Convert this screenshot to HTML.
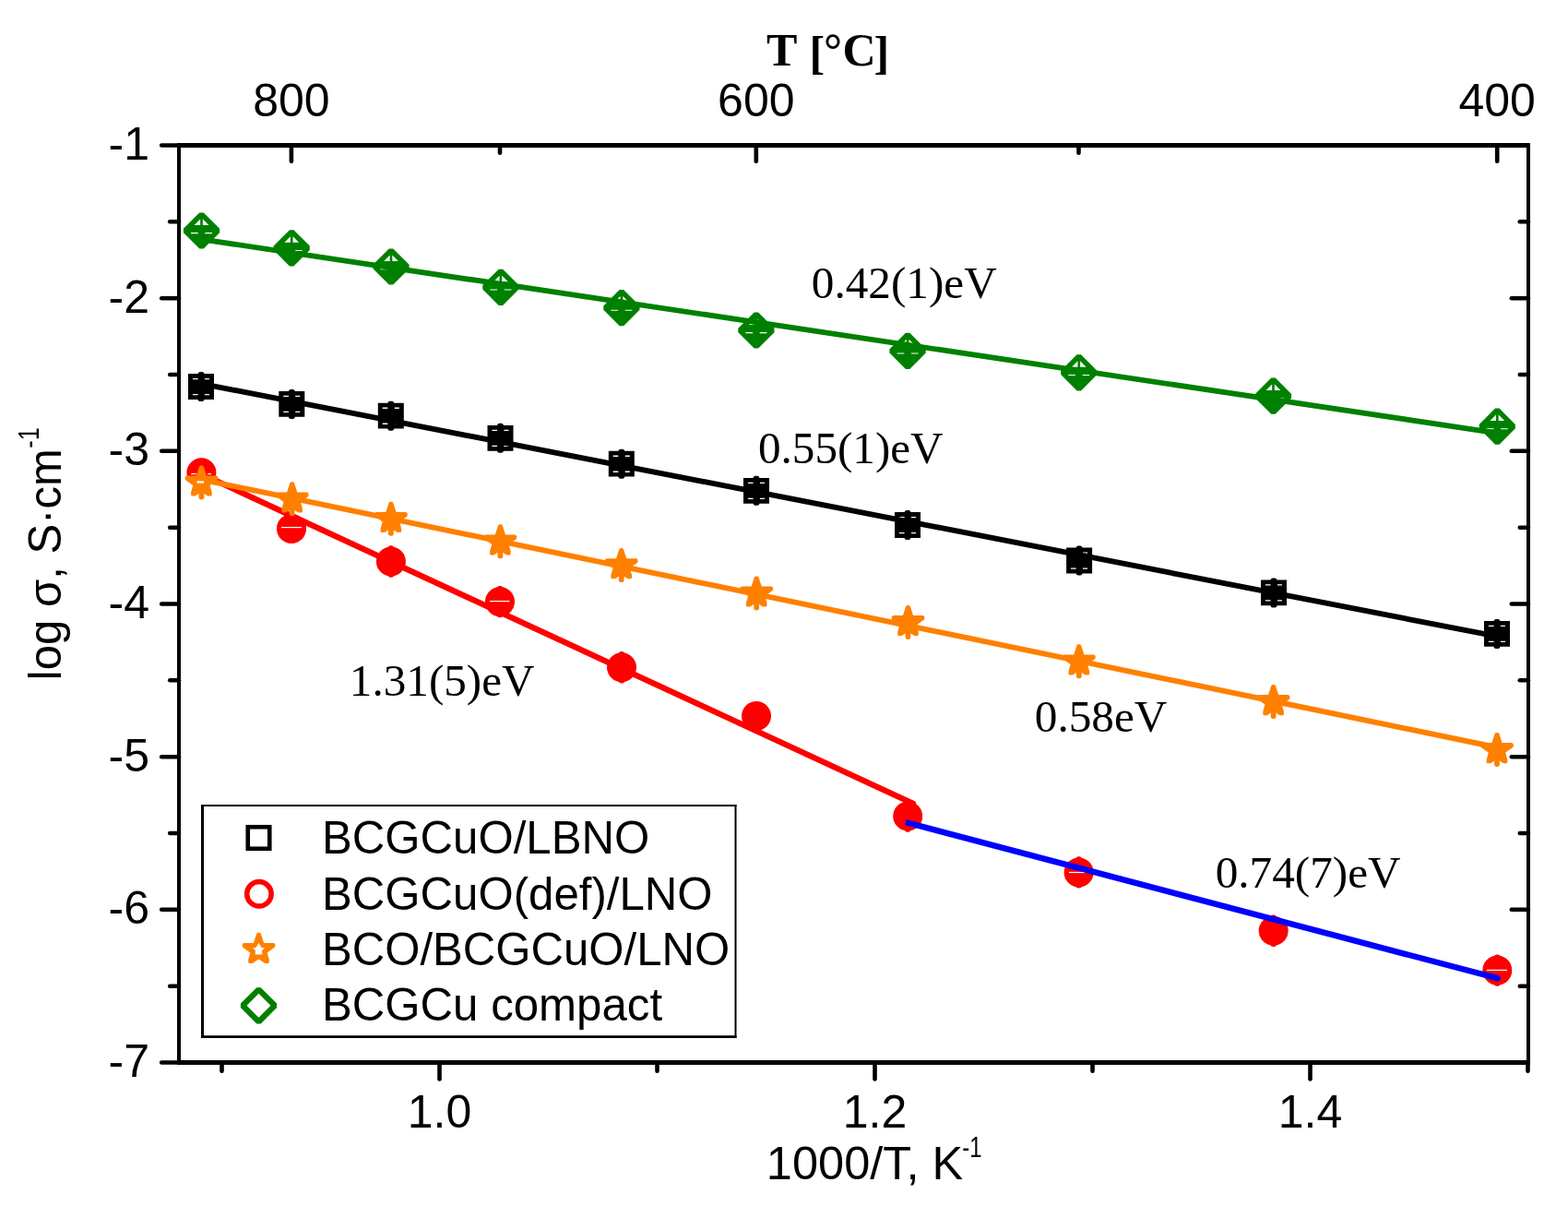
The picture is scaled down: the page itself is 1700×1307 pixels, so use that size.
<!DOCTYPE html>
<html><head><meta charset="utf-8"><title>Arrhenius plot</title>
<style>html,body{margin:0;padding:0;background:#fff;overflow:hidden;}svg{display:block;}</style>
</head><body>
<svg width="1700" height="1307" viewBox="0 0 1700 1307">
<rect width="1700" height="1307" fill="#fff"/>
<g id="series">
<line x1="218.4" y1="513.7" x2="990.0" y2="870.9" stroke="#FF0000" stroke-width="6.3" stroke-linecap="round"/>
<circle cx="218.4" cy="512.3" r="16" fill="#FF0000"/>
<circle cx="316" cy="572.9" r="16" fill="#FF0000"/>
<circle cx="423.9" cy="608.5" r="16" fill="#FF0000"/>
<rect x="420.90" y="591.30" width="6" height="34.4" rx="2.5" fill="#FF0000"/>
<circle cx="542" cy="652.1" r="16" fill="#FF0000"/>
<rect x="539.00" y="634.90" width="6" height="34.4" rx="2.5" fill="#FF0000"/>
<circle cx="674" cy="723.3" r="16" fill="#FF0000"/>
<rect x="671.00" y="706.10" width="6" height="34.4" rx="2.5" fill="#FF0000"/>
<circle cx="820" cy="776" r="16" fill="#FF0000"/>
<circle cx="984.2" cy="884.5" r="16" fill="#FF0000"/>
<rect x="981.20" y="867.30" width="6" height="34.4" rx="2.5" fill="#FF0000"/>
<circle cx="1169.6" cy="945.4" r="16" fill="#FF0000"/>
<rect x="1166.60" y="928.20" width="6" height="34.4" rx="2.5" fill="#FF0000"/>
<circle cx="1380.7" cy="1008.7" r="16" fill="#FF0000"/>
<rect x="1377.70" y="991.50" width="6" height="34.4" rx="2.5" fill="#FF0000"/>
<circle cx="1623.3" cy="1051.6" r="16" fill="#FF0000"/>
<rect x="1620.30" y="1034.40" width="6" height="34.4" rx="2.5" fill="#FF0000"/>
<rect x="305" y="571" width="22.0" height="1.2" fill="#fff"/>
<rect x="531" y="651" width="21.5" height="1.2" fill="#fff"/>
<rect x="1159" y="944.9" width="18.2" height="1.2" fill="#fff"/>
<rect x="1612" y="1050.8" width="22.0" height="1.2" fill="#fff"/>
<rect x="207.2" y="513" width="5.7" height="1.2" fill="#fff"/>
<rect x="225.1" y="513" width="3.8" height="1.2" fill="#fff"/>
<line x1="982.0" y1="891.2" x2="1623.5" y2="1060.2" stroke="#0000FF" stroke-width="6.5" stroke-linecap="butt"/>
<circle cx="1623.5" cy="1060.2" r="3.25" fill="#0000FF"/>
<line x1="218.4" y1="519.7" x2="1623.0" y2="810.0" stroke="#FF8000" stroke-width="6.0" stroke-linecap="butt"/>
<path d="M216.20,505.20 L217.60,504.40 L219.20,504.40 L220.60,505.20 L224.00,515.50 L234.60,515.50 L236.20,516.80 L236.20,519.60 L235.20,520.60 L227.60,526.00 L229.00,531.00 L229.70,533.30 L229.70,536.60 L228.90,537.60 L225.20,537.60 L218.40,533.00 L211.60,537.60 L207.90,537.60 L207.10,536.60 L207.10,533.30 L207.80,531.00 L209.20,526.00 L201.60,520.60 L200.60,519.60 L200.60,516.80 L202.20,515.50 L212.80,515.50Z" fill="#FF8000"/>
<rect x="215.50" y="531.80" width="5.8" height="9.6" rx="2.4" fill="#FF8000"/>
<path d="M314.50,523.10 L315.90,522.30 L317.50,522.30 L318.90,523.10 L322.30,533.40 L332.90,533.40 L334.50,534.70 L334.50,537.50 L333.50,538.50 L325.90,543.90 L327.30,548.90 L328.00,551.20 L328.00,554.50 L327.20,555.50 L323.50,555.50 L316.70,550.90 L309.90,555.50 L306.20,555.50 L305.40,554.50 L305.40,551.20 L306.10,548.90 L307.50,543.90 L299.90,538.50 L298.90,537.50 L298.90,534.70 L300.50,533.40 L311.10,533.40Z" fill="#FF8000"/>
<rect x="313.80" y="549.70" width="5.8" height="9.6" rx="2.4" fill="#FF8000"/>
<path d="M421.70,544.60 L423.10,543.80 L424.70,543.80 L426.10,544.60 L429.50,554.90 L440.10,554.90 L441.70,556.20 L441.70,559.00 L440.70,560.00 L433.10,565.40 L434.50,570.40 L435.20,572.70 L435.20,576.00 L434.40,577.00 L430.70,577.00 L423.90,572.40 L417.10,577.00 L413.40,577.00 L412.60,576.00 L412.60,572.70 L413.30,570.40 L414.70,565.40 L407.10,560.00 L406.10,559.00 L406.10,556.20 L407.70,554.90 L418.30,554.90Z" fill="#FF8000"/>
<rect x="421.00" y="571.20" width="5.8" height="9.6" rx="2.4" fill="#FF8000"/>
<path d="M540.20,569.10 L541.60,568.30 L543.20,568.30 L544.60,569.10 L548.00,579.40 L558.60,579.40 L560.20,580.70 L560.20,583.50 L559.20,584.50 L551.60,589.90 L553.00,594.90 L553.70,597.20 L553.70,600.50 L552.90,601.50 L549.20,601.50 L542.40,596.90 L535.60,601.50 L531.90,601.50 L531.10,600.50 L531.10,597.20 L531.80,594.90 L533.20,589.90 L525.60,584.50 L524.60,583.50 L524.60,580.70 L526.20,579.40 L536.80,579.40Z" fill="#FF8000"/>
<rect x="539.50" y="595.70" width="5.8" height="9.6" rx="2.4" fill="#FF8000"/>
<path d="M671.50,594.90 L672.90,594.10 L674.50,594.10 L675.90,594.90 L679.30,605.20 L689.90,605.20 L691.50,606.50 L691.50,609.30 L690.50,610.30 L682.90,615.70 L684.30,620.70 L685.00,623.00 L685.00,626.30 L684.20,627.30 L680.50,627.30 L673.70,622.70 L666.90,627.30 L663.20,627.30 L662.40,626.30 L662.40,623.00 L663.10,620.70 L664.50,615.70 L656.90,610.30 L655.90,609.30 L655.90,606.50 L657.50,605.20 L668.10,605.20Z" fill="#FF8000"/>
<rect x="670.80" y="621.50" width="5.8" height="9.6" rx="2.4" fill="#FF8000"/>
<path d="M818.00,625.20 L819.40,624.40 L821.00,624.40 L822.40,625.20 L825.80,635.50 L836.40,635.50 L838.00,636.80 L838.00,639.60 L837.00,640.60 L829.40,646.00 L830.80,651.00 L831.50,653.30 L831.50,656.60 L830.70,657.60 L827.00,657.60 L820.20,653.00 L813.40,657.60 L809.70,657.60 L808.90,656.60 L808.90,653.30 L809.60,651.00 L811.00,646.00 L803.40,640.60 L802.40,639.60 L802.40,636.80 L804.00,635.50 L814.60,635.50Z" fill="#FF8000"/>
<rect x="817.30" y="651.80" width="5.8" height="9.6" rx="2.4" fill="#FF8000"/>
<path d="M982.30,656.70 L983.70,655.90 L985.30,655.90 L986.70,656.70 L990.10,667.00 L1000.70,667.00 L1002.30,668.30 L1002.30,671.10 L1001.30,672.10 L993.70,677.50 L995.10,682.50 L995.80,684.80 L995.80,688.10 L995.00,689.10 L991.30,689.10 L984.50,684.50 L977.70,689.10 L974.00,689.10 L973.20,688.10 L973.20,684.80 L973.90,682.50 L975.30,677.50 L967.70,672.10 L966.70,671.10 L966.70,668.30 L968.30,667.00 L978.90,667.00Z" fill="#FF8000"/>
<rect x="981.60" y="683.30" width="5.8" height="9.6" rx="2.4" fill="#FF8000"/>
<path d="M1167.60,699.10 L1169.00,698.30 L1170.60,698.30 L1172.00,699.10 L1175.40,709.40 L1186.00,709.40 L1187.60,710.70 L1187.60,713.50 L1186.60,714.50 L1179.00,719.90 L1180.40,724.90 L1181.10,727.20 L1181.10,730.50 L1180.30,731.50 L1176.60,731.50 L1169.80,726.90 L1163.00,731.50 L1159.30,731.50 L1158.50,730.50 L1158.50,727.20 L1159.20,724.90 L1160.60,719.90 L1153.00,714.50 L1152.00,713.50 L1152.00,710.70 L1153.60,709.40 L1164.20,709.40Z" fill="#FF8000"/>
<rect x="1166.90" y="725.70" width="5.8" height="9.6" rx="2.4" fill="#FF8000"/>
<path d="M1378.40,742.80 L1379.80,742.00 L1381.40,742.00 L1382.80,742.80 L1386.20,753.10 L1396.80,753.10 L1398.40,754.40 L1398.40,757.20 L1397.40,758.20 L1389.80,763.60 L1391.20,768.60 L1391.90,770.90 L1391.90,774.20 L1391.10,775.20 L1387.40,775.20 L1380.60,770.60 L1373.80,775.20 L1370.10,775.20 L1369.30,774.20 L1369.30,770.90 L1370.00,768.60 L1371.40,763.60 L1363.80,758.20 L1362.80,757.20 L1362.80,754.40 L1364.40,753.10 L1375.00,753.10Z" fill="#FF8000"/>
<rect x="1377.70" y="769.40" width="5.8" height="9.6" rx="2.4" fill="#FF8000"/>
<path d="M1620.80,794.80 L1622.20,794.00 L1623.80,794.00 L1625.20,794.80 L1628.60,805.10 L1639.20,805.10 L1640.80,806.40 L1640.80,809.20 L1639.80,810.20 L1632.20,815.60 L1633.60,820.60 L1634.30,822.90 L1634.30,826.20 L1633.50,827.20 L1629.80,827.20 L1623.00,822.60 L1616.20,827.20 L1612.50,827.20 L1611.70,826.20 L1611.70,822.90 L1612.40,820.60 L1613.80,815.60 L1606.20,810.20 L1605.20,809.20 L1605.20,806.40 L1606.80,805.10 L1617.40,805.10Z" fill="#FF8000"/>
<rect x="1620.10" y="821.40" width="5.8" height="9.6" rx="2.4" fill="#FF8000"/>
<rect x="213.5" y="521.4" width="7.5" height="2.2" fill="#fff"/>
<line x1="218.0" y1="415.8" x2="1623.0" y2="689.7" stroke="#000000" stroke-width="5.9" stroke-linecap="butt"/>
<path d="M204.00,405.10 L232.00,405.10 L232.00,432.90 L204.00,432.90Z M208.90,409.90 L215.00,409.90 L215.00,411.20 L208.90,411.20Z M208.90,426.90 L215.00,426.90 L215.00,428.20 L208.90,428.20Z M221.90,409.90 L227.00,409.90 L227.00,411.20 L221.90,411.20Z M221.90,426.90 L227.00,426.90 L227.00,428.20 L221.90,428.20Z" fill="#000000" fill-rule="evenodd"/>
<rect x="214.60" y="403.00" width="6.8" height="32" rx="2.5" fill="#000000"/>
<path d="M302.30,424.00 L330.30,424.00 L330.30,451.80 L302.30,451.80Z M307.20,428.80 L313.30,428.80 L313.30,430.10 L307.20,430.10Z M307.20,445.80 L313.30,445.80 L313.30,447.10 L307.20,447.10Z M320.20,428.80 L325.30,428.80 L325.30,430.10 L320.20,430.10Z M320.20,445.80 L325.30,445.80 L325.30,447.10 L320.20,447.10Z" fill="#000000" fill-rule="evenodd"/>
<rect x="312.90" y="421.90" width="6.8" height="32" rx="2.5" fill="#000000"/>
<path d="M409.80,436.80 L437.80,436.80 L437.80,464.60 L409.80,464.60Z M414.70,441.60 L420.80,441.60 L420.80,442.90 L414.70,442.90Z M414.70,458.60 L420.80,458.60 L420.80,459.90 L414.70,459.90Z M427.70,441.60 L432.80,441.60 L432.80,442.90 L427.70,442.90Z M427.70,458.60 L432.80,458.60 L432.80,459.90 L427.70,459.90Z" fill="#000000" fill-rule="evenodd"/>
<rect x="420.40" y="434.70" width="6.8" height="32" rx="2.5" fill="#000000"/>
<path d="M528.50,460.90 L556.50,460.90 L556.50,488.70 L528.50,488.70Z M533.40,465.70 L539.50,465.70 L539.50,467.00 L533.40,467.00Z M533.40,482.70 L539.50,482.70 L539.50,484.00 L533.40,484.00Z M546.40,465.70 L551.50,465.70 L551.50,467.00 L546.40,467.00Z M546.40,482.70 L551.50,482.70 L551.50,484.00 L546.40,484.00Z" fill="#000000" fill-rule="evenodd"/>
<rect x="539.10" y="458.80" width="6.8" height="32" rx="2.5" fill="#000000"/>
<path d="M659.80,488.80 L687.80,488.80 L687.80,516.60 L659.80,516.60Z M664.70,493.60 L670.80,493.60 L670.80,494.90 L664.70,494.90Z M664.70,510.60 L670.80,510.60 L670.80,511.90 L664.70,511.90Z M677.70,493.60 L682.80,493.60 L682.80,494.90 L677.70,494.90Z M677.70,510.60 L682.80,510.60 L682.80,511.90 L677.70,511.90Z" fill="#000000" fill-rule="evenodd"/>
<rect x="670.40" y="486.70" width="6.8" height="32" rx="2.5" fill="#000000"/>
<path d="M806.00,517.90 L834.00,517.90 L834.00,545.70 L806.00,545.70Z M810.90,522.70 L817.00,522.70 L817.00,524.00 L810.90,524.00Z M810.90,539.70 L817.00,539.70 L817.00,541.00 L810.90,541.00Z M823.90,522.70 L829.00,522.70 L829.00,524.00 L823.90,524.00Z M823.90,539.70 L829.00,539.70 L829.00,541.00 L823.90,541.00Z" fill="#000000" fill-rule="evenodd"/>
<rect x="816.60" y="515.80" width="6.8" height="32" rx="2.5" fill="#000000"/>
<path d="M970.00,555.10 L998.00,555.10 L998.00,582.90 L970.00,582.90Z M974.90,559.90 L981.00,559.90 L981.00,561.20 L974.90,561.20Z M974.90,576.90 L981.00,576.90 L981.00,578.20 L974.90,578.20Z M987.90,559.90 L993.00,559.90 L993.00,561.20 L987.90,561.20Z M987.90,576.90 L993.00,576.90 L993.00,578.20 L987.90,578.20Z" fill="#000000" fill-rule="evenodd"/>
<rect x="980.60" y="553.00" width="6.8" height="32" rx="2.5" fill="#000000"/>
<path d="M1156.10,593.60 L1184.10,593.60 L1184.10,621.40 L1156.10,621.40Z M1161.00,598.40 L1167.10,598.40 L1167.10,599.70 L1161.00,599.70Z M1161.00,615.40 L1167.10,615.40 L1167.10,616.70 L1161.00,616.70Z M1174.00,598.40 L1179.10,598.40 L1179.10,599.70 L1174.00,599.70Z M1174.00,615.40 L1179.10,615.40 L1179.10,616.70 L1174.00,616.70Z" fill="#000000" fill-rule="evenodd"/>
<rect x="1166.70" y="591.50" width="6.8" height="32" rx="2.5" fill="#000000"/>
<path d="M1367.00,628.50 L1395.00,628.50 L1395.00,656.30 L1367.00,656.30Z M1371.90,633.30 L1378.00,633.30 L1378.00,634.60 L1371.90,634.60Z M1371.90,650.30 L1378.00,650.30 L1378.00,651.60 L1371.90,651.60Z M1384.90,633.30 L1390.00,633.30 L1390.00,634.60 L1384.90,634.60Z M1384.90,650.30 L1390.00,650.30 L1390.00,651.60 L1384.90,651.60Z" fill="#000000" fill-rule="evenodd"/>
<rect x="1377.60" y="626.40" width="6.8" height="32" rx="2.5" fill="#000000"/>
<path d="M1609.00,673.00 L1637.00,673.00 L1637.00,700.80 L1609.00,700.80Z M1613.90,677.80 L1620.00,677.80 L1620.00,679.10 L1613.90,679.10Z M1613.90,694.80 L1620.00,694.80 L1620.00,696.10 L1613.90,696.10Z M1626.90,677.80 L1632.00,677.80 L1632.00,679.10 L1626.90,679.10Z M1626.90,694.80 L1632.00,694.80 L1632.00,696.10 L1626.90,696.10Z" fill="#000000" fill-rule="evenodd"/>
<rect x="1619.60" y="670.90" width="6.8" height="32" rx="2.5" fill="#000000"/>
<line x1="218.5" y1="259.3" x2="1623.3" y2="469.4" stroke="#008000" stroke-width="5.9" stroke-linecap="butt"/>
<path d="M216.30,230.40 L220.70,230.40 L238.10,247.80 L238.10,252.20 L220.70,269.60 L216.30,269.60 L198.90,252.20 L198.90,247.80Z M210.65,243.90 L217.15,237.40 L217.15,243.90Z M219.85,237.40 L226.35,243.90 L219.85,243.90Z M207.00,252.10 L214.70,252.10 L214.70,253.20 L207.00,253.20Z M222.30,252.10 L230.00,252.10 L230.00,253.20 L222.30,253.20Z" fill="#008000" fill-rule="evenodd"/>
<path d="M314.00,249.20 L318.40,249.20 L335.80,266.60 L335.80,271.00 L318.40,288.40 L314.00,288.40 L296.60,271.00 L296.60,266.60Z M308.35,262.70 L314.85,256.20 L314.85,262.70Z M317.55,256.20 L324.05,262.70 L317.55,262.70Z M304.70,270.90 L312.40,270.90 L312.40,272.00 L304.70,272.00Z M320.00,270.90 L327.70,270.90 L327.70,272.00 L320.00,272.00Z" fill="#008000" fill-rule="evenodd"/>
<path d="M421.80,269.40 L426.20,269.40 L443.60,286.80 L443.60,291.20 L426.20,308.60 L421.80,308.60 L404.40,291.20 L404.40,286.80Z M416.15,282.90 L422.65,276.40 L422.65,282.90Z M425.35,276.40 L431.85,282.90 L425.35,282.90Z M412.50,291.10 L420.20,291.10 L420.20,292.20 L412.50,292.20Z M427.80,291.10 L435.50,291.10 L435.50,292.20 L427.80,292.20Z" fill="#008000" fill-rule="evenodd"/>
<path d="M540.70,291.70 L545.10,291.70 L562.50,309.10 L562.50,313.50 L545.10,330.90 L540.70,330.90 L523.30,313.50 L523.30,309.10Z M535.05,305.20 L541.55,298.70 L541.55,305.20Z M544.25,298.70 L550.75,305.20 L544.25,305.20Z M531.40,313.40 L539.10,313.40 L539.10,314.50 L531.40,314.50Z M546.70,313.40 L554.40,313.40 L554.40,314.50 L546.70,314.50Z" fill="#008000" fill-rule="evenodd"/>
<path d="M671.70,314.00 L676.10,314.00 L693.50,331.40 L693.50,335.80 L676.10,353.20 L671.70,353.20 L654.30,335.80 L654.30,331.40Z M666.05,327.50 L672.55,321.00 L672.55,327.50Z M675.25,321.00 L681.75,327.50 L675.25,327.50Z M662.40,335.70 L670.10,335.70 L670.10,336.80 L662.40,336.80Z M677.70,335.70 L685.40,335.70 L685.40,336.80 L677.70,336.80Z" fill="#008000" fill-rule="evenodd"/>
<path d="M817.70,338.40 L822.10,338.40 L839.50,355.80 L839.50,360.20 L822.10,377.60 L817.70,377.60 L800.30,360.20 L800.30,355.80Z M812.05,351.90 L818.55,345.40 L818.55,351.90Z M821.25,345.40 L827.75,351.90 L821.25,351.90Z M808.40,360.10 L816.10,360.10 L816.10,361.20 L808.40,361.20Z M823.70,360.10 L831.40,360.10 L831.40,361.20 L823.70,361.20Z" fill="#008000" fill-rule="evenodd"/>
<path d="M981.90,360.80 L986.30,360.80 L1003.70,378.20 L1003.70,382.60 L986.30,400.00 L981.90,400.00 L964.50,382.60 L964.50,378.20Z M976.25,374.30 L982.75,367.80 L982.75,374.30Z M985.45,367.80 L991.95,374.30 L985.45,374.30Z M972.60,382.50 L980.30,382.50 L980.30,383.60 L972.60,383.60Z M987.90,382.50 L995.60,382.50 L995.60,383.60 L987.90,383.60Z" fill="#008000" fill-rule="evenodd"/>
<path d="M1167.60,384.30 L1172.00,384.30 L1189.40,401.70 L1189.40,406.10 L1172.00,423.50 L1167.60,423.50 L1150.20,406.10 L1150.20,401.70Z M1161.95,397.80 L1168.45,391.30 L1168.45,397.80Z M1171.15,391.30 L1177.65,397.80 L1171.15,397.80Z M1158.30,406.00 L1166.00,406.00 L1166.00,407.10 L1158.30,407.10Z M1173.60,406.00 L1181.30,406.00 L1181.30,407.10 L1173.60,407.10Z" fill="#008000" fill-rule="evenodd"/>
<path d="M1378.30,409.60 L1382.70,409.60 L1400.10,427.00 L1400.10,431.40 L1382.70,448.80 L1378.30,448.80 L1360.90,431.40 L1360.90,427.00Z M1372.65,423.10 L1379.15,416.60 L1379.15,423.10Z M1381.85,416.60 L1388.35,423.10 L1381.85,423.10Z M1369.00,431.30 L1376.70,431.30 L1376.70,432.40 L1369.00,432.40Z M1384.30,431.30 L1392.00,431.30 L1392.00,432.40 L1384.30,432.40Z" fill="#008000" fill-rule="evenodd"/>
<path d="M1621.10,442.50 L1625.50,442.50 L1642.90,459.90 L1642.90,464.30 L1625.50,481.70 L1621.10,481.70 L1603.70,464.30 L1603.70,459.90Z M1615.45,456.00 L1621.95,449.50 L1621.95,456.00Z M1624.65,449.50 L1631.15,456.00 L1624.65,456.00Z M1611.80,464.20 L1619.50,464.20 L1619.50,465.30 L1611.80,465.30Z M1627.10,464.20 L1634.80,464.20 L1634.80,465.30 L1627.10,465.30Z" fill="#008000" fill-rule="evenodd"/>
</g>
<g id="axes">
<line x1="194.0" y1="157.5" x2="194.0" y2="1151.5" stroke="#000" stroke-width="4"/>
<line x1="1657.0" y1="155.0" x2="1657.0" y2="1151.5" stroke="#000" stroke-width="4"/>
<line x1="192.0" y1="157.5" x2="1659.0" y2="157.5" stroke="#000" stroke-width="5"/>
<line x1="192.0" y1="1151.5" x2="1659.0" y2="1151.5" stroke="#000" stroke-width="5"/>
<line x1="175.2" y1="157.5" x2="194.0" y2="157.5" stroke="#000" stroke-width="4.6" stroke-linecap="round"/>
<line x1="184.2" y1="240.3" x2="194.0" y2="240.3" stroke="#000" stroke-width="4.6" stroke-linecap="round"/>
<line x1="1647.8" y1="240.3" x2="1657.0" y2="240.3" stroke="#000" stroke-width="4.6" stroke-linecap="round"/>
<line x1="175.2" y1="323.2" x2="194.0" y2="323.2" stroke="#000" stroke-width="4.6" stroke-linecap="round"/>
<line x1="1638.8" y1="323.2" x2="1657.0" y2="323.2" stroke="#000" stroke-width="4.6" stroke-linecap="round"/>
<line x1="184.2" y1="406.0" x2="194.0" y2="406.0" stroke="#000" stroke-width="4.6" stroke-linecap="round"/>
<line x1="1647.8" y1="406.0" x2="1657.0" y2="406.0" stroke="#000" stroke-width="4.6" stroke-linecap="round"/>
<line x1="175.2" y1="488.8" x2="194.0" y2="488.8" stroke="#000" stroke-width="4.6" stroke-linecap="round"/>
<line x1="1638.8" y1="488.8" x2="1657.0" y2="488.8" stroke="#000" stroke-width="4.6" stroke-linecap="round"/>
<line x1="184.2" y1="571.7" x2="194.0" y2="571.7" stroke="#000" stroke-width="4.6" stroke-linecap="round"/>
<line x1="1647.8" y1="571.7" x2="1657.0" y2="571.7" stroke="#000" stroke-width="4.6" stroke-linecap="round"/>
<line x1="175.2" y1="654.5" x2="194.0" y2="654.5" stroke="#000" stroke-width="4.6" stroke-linecap="round"/>
<line x1="1638.8" y1="654.5" x2="1657.0" y2="654.5" stroke="#000" stroke-width="4.6" stroke-linecap="round"/>
<line x1="184.2" y1="737.3" x2="194.0" y2="737.3" stroke="#000" stroke-width="4.6" stroke-linecap="round"/>
<line x1="1647.8" y1="737.3" x2="1657.0" y2="737.3" stroke="#000" stroke-width="4.6" stroke-linecap="round"/>
<line x1="175.2" y1="820.2" x2="194.0" y2="820.2" stroke="#000" stroke-width="4.6" stroke-linecap="round"/>
<line x1="1638.8" y1="820.2" x2="1657.0" y2="820.2" stroke="#000" stroke-width="4.6" stroke-linecap="round"/>
<line x1="184.2" y1="903.0" x2="194.0" y2="903.0" stroke="#000" stroke-width="4.6" stroke-linecap="round"/>
<line x1="1647.8" y1="903.0" x2="1657.0" y2="903.0" stroke="#000" stroke-width="4.6" stroke-linecap="round"/>
<line x1="175.2" y1="985.8" x2="194.0" y2="985.8" stroke="#000" stroke-width="4.6" stroke-linecap="round"/>
<line x1="1638.8" y1="985.8" x2="1657.0" y2="985.8" stroke="#000" stroke-width="4.6" stroke-linecap="round"/>
<line x1="184.2" y1="1068.7" x2="194.0" y2="1068.7" stroke="#000" stroke-width="4.6" stroke-linecap="round"/>
<line x1="1647.8" y1="1068.7" x2="1657.0" y2="1068.7" stroke="#000" stroke-width="4.6" stroke-linecap="round"/>
<line x1="175.2" y1="1151.5" x2="194.0" y2="1151.5" stroke="#000" stroke-width="4.6" stroke-linecap="round"/>
<line x1="240.5" y1="1151.5" x2="240.5" y2="1160.7" stroke="#000" stroke-width="4.6" stroke-linecap="round"/>
<line x1="476.5" y1="1151.5" x2="476.5" y2="1169.5" stroke="#000" stroke-width="4.6" stroke-linecap="round"/>
<line x1="712.5" y1="1151.5" x2="712.5" y2="1160.7" stroke="#000" stroke-width="4.6" stroke-linecap="round"/>
<line x1="948.5" y1="1151.5" x2="948.5" y2="1169.5" stroke="#000" stroke-width="4.6" stroke-linecap="round"/>
<line x1="1184.5" y1="1151.5" x2="1184.5" y2="1160.7" stroke="#000" stroke-width="4.6" stroke-linecap="round"/>
<line x1="1420.5" y1="1151.5" x2="1420.5" y2="1169.5" stroke="#000" stroke-width="4.6" stroke-linecap="round"/>
<line x1="1656.5" y1="1151.5" x2="1656.5" y2="1160.7" stroke="#000" stroke-width="4.6" stroke-linecap="round"/>
<line x1="315.9" y1="157.5" x2="315.9" y2="174.7" stroke="#000" stroke-width="4.6" stroke-linecap="round"/>
<line x1="542.0" y1="157.5" x2="542.0" y2="165.8" stroke="#000" stroke-width="4.6" stroke-linecap="round"/>
<line x1="819.8" y1="157.5" x2="819.8" y2="174.7" stroke="#000" stroke-width="4.6" stroke-linecap="round"/>
<line x1="1169.5" y1="157.5" x2="1169.5" y2="165.8" stroke="#000" stroke-width="4.6" stroke-linecap="round"/>
<line x1="1623.2" y1="157.5" x2="1623.2" y2="174.7" stroke="#000" stroke-width="4.6" stroke-linecap="round"/>
</g>
<g id="legend">
<rect x="218" y="872" width="580.5" height="253" fill="#fff"/>
<rect x="218" y="872" width="580.5" height="2" fill="#000"/>
<rect x="218" y="1122.2" width="580.5" height="2.8" fill="#000"/>
<rect x="218" y="872" width="3" height="253" fill="#000"/>
<rect x="796.5" y="872" width="2" height="253" fill="#000"/>
<rect x="268.75" y="896.25" width="23.5" height="23.5" fill="none" stroke="#000000" stroke-width="4.6"/>
<circle cx="280.9" cy="968.8" r="13.25" fill="none" stroke="#FF0000" stroke-width="5.5"/>
<path d="M278.30,1011.60 L279.70,1010.80 L281.30,1010.80 L282.70,1011.60 L286.10,1021.90 L296.70,1021.90 L298.30,1023.20 L298.30,1026.00 L297.30,1027.00 L289.70,1032.40 L291.10,1037.40 L291.80,1039.70 L291.80,1043.00 L291.00,1044.00 L287.30,1044.00 L280.50,1039.40 L273.70,1044.00 L270.00,1044.00 L269.20,1043.00 L269.20,1039.70 L269.90,1037.40 L271.30,1032.40 L263.70,1027.00 L262.70,1026.00 L262.70,1023.20 L264.30,1021.90 L274.90,1021.90Z M280.50,1021.80 L283.30,1026.80 L287.00,1027.50 L284.10,1030.00 L284.30,1034.60 L276.70,1034.60 L276.90,1030.00 L274.00,1027.50 L277.70,1026.80Z" fill="#FF8000" fill-rule="evenodd"/>
<path d="M278.30,1070.20 L282.70,1070.20 L300.10,1087.60 L300.10,1092.00 L282.70,1109.40 L278.30,1109.40 L260.90,1092.00 L260.90,1087.60Z M280.50,1076.80 L293.50,1089.80 L280.50,1102.80 L267.50,1089.80Z" fill="#008000" fill-rule="evenodd"/>
</g>
<g id="labels">
<text x="162" y="173.0" text-anchor="end" font-family="'Liberation Sans', Arial, sans-serif" font-size="50">-1</text>
<text x="162" y="338.7" text-anchor="end" font-family="'Liberation Sans', Arial, sans-serif" font-size="50">-2</text>
<text x="162" y="504.3" text-anchor="end" font-family="'Liberation Sans', Arial, sans-serif" font-size="50">-3</text>
<text x="162" y="670.0" text-anchor="end" font-family="'Liberation Sans', Arial, sans-serif" font-size="50">-4</text>
<text x="162" y="835.7" text-anchor="end" font-family="'Liberation Sans', Arial, sans-serif" font-size="50">-5</text>
<text x="162" y="1001.3" text-anchor="end" font-family="'Liberation Sans', Arial, sans-serif" font-size="50">-6</text>
<text x="162" y="1167.0" text-anchor="end" font-family="'Liberation Sans', Arial, sans-serif" font-size="50">-7</text>
<text x="476.5" y="1222" text-anchor="middle" font-family="'Liberation Sans', Arial, sans-serif" font-size="50">1.0</text>
<text x="948.5" y="1222" text-anchor="middle" font-family="'Liberation Sans', Arial, sans-serif" font-size="50">1.2</text>
<text x="1420.5" y="1222" text-anchor="middle" font-family="'Liberation Sans', Arial, sans-serif" font-size="50">1.4</text>
<text x="315.9" y="125.5" text-anchor="middle" font-family="'Liberation Sans', Arial, sans-serif" font-size="50">800</text>
<text x="819.8" y="125.5" text-anchor="middle" font-family="'Liberation Sans', Arial, sans-serif" font-size="50">600</text>
<text x="1623.2" y="125.5" text-anchor="middle" font-family="'Liberation Sans', Arial, sans-serif" font-size="50">400</text>
<text x="879.87" y="322.7" font-family="'Liberation Serif', 'Times New Roman', serif" font-size="48.5" textLength="200.83" lengthAdjust="spacingAndGlyphs">0.42(1)eV</text>
<text x="821.97" y="502.0" font-family="'Liberation Serif', 'Times New Roman', serif" font-size="48.5" textLength="200.62" lengthAdjust="spacingAndGlyphs">0.55(1)eV</text>
<text x="378.84" y="754.0" font-family="'Liberation Serif', 'Times New Roman', serif" font-size="48.5" textLength="200.75" lengthAdjust="spacingAndGlyphs">1.31(5)eV</text>
<text x="1121.77" y="792.5" font-family="'Liberation Serif', 'Times New Roman', serif" font-size="48.5" textLength="143.68" lengthAdjust="spacingAndGlyphs">0.58eV</text>
<text x="1317.67" y="962.0" font-family="'Liberation Serif', 'Times New Roman', serif" font-size="48.5" textLength="201.03" lengthAdjust="spacingAndGlyphs">0.74(7)eV</text>
<text x="348.97" y="925.0" font-family="'Liberation Sans', Arial, sans-serif" font-size="50" textLength="355.32" lengthAdjust="spacingAndGlyphs">BCGCuO/LBNO</text>
<text x="348.97" y="985.9" font-family="'Liberation Sans', Arial, sans-serif" font-size="50" textLength="423.66" lengthAdjust="spacingAndGlyphs">BCGCuO(def)/LNO</text>
<text x="348.97" y="1046.0" font-family="'Liberation Sans', Arial, sans-serif" font-size="50" textLength="442.30" lengthAdjust="spacingAndGlyphs">BCO/BCGCuO/LNO</text>
<text x="348.96" y="1105.8" font-family="'Liberation Sans', Arial, sans-serif" font-size="50" textLength="369.16" lengthAdjust="spacingAndGlyphs">BCGCu compact</text>
<text x="830.86" y="1278.0" font-family="'Liberation Sans', Arial, sans-serif" font-size="50" textLength="213.42" lengthAdjust="spacingAndGlyphs">1000/T, K</text>
<text x="1043.24" y="1253.8" font-family="'Liberation Sans', Arial, sans-serif" font-size="31.5" textLength="21.29" lengthAdjust="spacingAndGlyphs">-1</text>
<g transform="translate(66.0,0) rotate(-90)"><text x="-737.14" y="0" font-family="'Liberation Sans', Arial, sans-serif" font-size="50" textLength="250.91" lengthAdjust="spacingAndGlyphs">log σ, S·cm</text></g>
<g transform="translate(42.0,0) rotate(-90)"><text x="-485.70" y="0" font-family="'Liberation Sans', Arial, sans-serif" font-size="31.5" textLength="22.41" lengthAdjust="spacingAndGlyphs">-1</text></g>
<text y="70.8" font-family="'Liberation Serif', 'Times New Roman', serif" font-weight="bold" font-size="50"><tspan x="830.9">T</tspan> <tspan x="877.4" dy="2.7">[</tspan><tspan x="893" dy="-2.7">°</tspan><tspan x="913.4">C</tspan><tspan x="947.4" dy="2.7">]</tspan></text>
</g>
</svg>
</body></html>
